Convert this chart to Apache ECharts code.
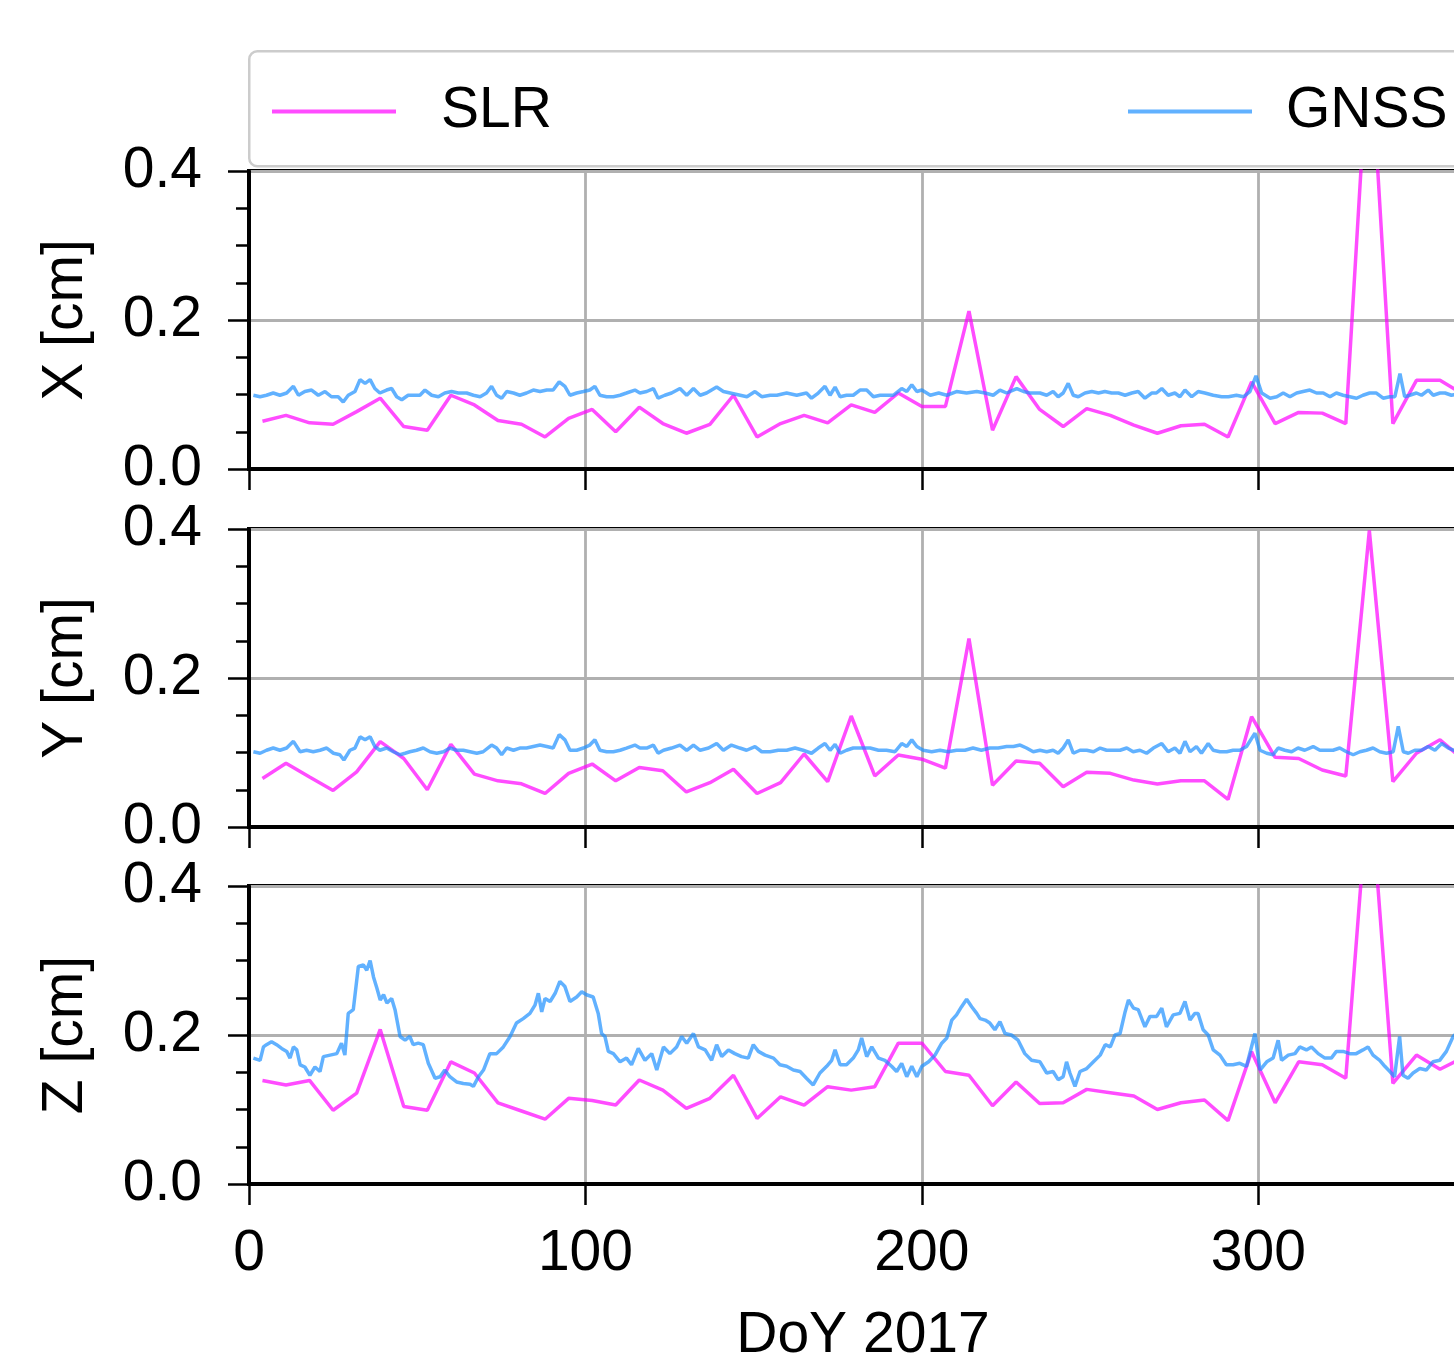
<!DOCTYPE html>
<html>
<head>
<meta charset="utf-8">
<script src="https://cdn.jsdelivr.net/npm/echarts@6/dist/echarts.min.js"></script>
<style>
html,body{margin:0;padding:0;background:#fff;overflow:hidden;width:1454px;height:1367px;}
#chart{width:1500px;height:1367px;}
</style>
</head>
<body>
<div id="chart"></div>
<script>
// ---------------- DATA ----------------
const panelNames = ['X [cm]', 'Y [cm]', 'Z [cm]'];
const xTitle = 'DoY 2017';
const seriesNames = ['SLR', 'GNSS'];
const yTicks = [0.0, 0.2, 0.4];
const xTicks = [0, 100, 200, 300];

// SLR weekly solutions (day of year)
const slrDays = [4,11,18,25,32,39,46,53,60,67,74,81,88,95,102,109,116,123,130,137,144,151,158,165,172,179,186,193,200,207,214,221,228,235,242,249,256,263,270,277,284,291,298,305,312,319,326,333,340,347,354,361];
const slrX = [0.064,0.072,0.062,0.060,0.077,0.095,0.057,0.052,0.099,0.086,0.065,0.060,0.043,0.068,0.080,0.050,0.083,0.061,0.048,0.060,0.099,0.043,0.061,0.072,0.062,0.086,0.076,0.102,0.084,0.084,0.212,0.052,0.124,0.080,0.057,0.081,0.072,0.059,0.048,0.058,0.060,0.043,0.117,0.061,0.076,0.075,0.061,0.59,0.061,0.119,0.119,0.100];
const slrY = [0.065,0.0855,0.067,0.049,0.074,0.1145,0.092,0.050,0.111,0.071,0.062,0.058,0.045,0.072,0.0845,0.062,0.080,0.0755,0.047,0.0595,0.0775,0.045,0.0595,0.098,0.061,0.149,0.0685,0.0966,0.091,0.079,0.253,0.056,0.0886,0.0855,0.054,0.0735,0.072,0.063,0.0577,0.062,0.062,0.037,0.148,0.0935,0.092,0.0765,0.0685,0.398,0.061,0.099,0.117,0.090];
const slrZ = [0.139,0.133,0.139,0.099,0.122,0.2075,0.104,0.099,0.164,0.149,0.109,0.098,0.087,0.115,0.112,0.106,0.1396,0.126,0.1015,0.115,0.146,0.088,0.117,0.106,0.1306,0.126,0.1306,0.189,0.189,0.151,0.146,0.105,0.137,0.108,0.109,0.127,0.1226,0.118,0.100,0.109,0.1128,0.085,0.1776,0.109,0.164,0.160,0.142,0.55,0.135,0.173,0.154,0.170];

// GNSS daily solutions [day, value]
const gnssX = [[1.3,.099],[3.3,.097],[5.2,.099],[7.2,.102],[9.2,.099],[11.2,.102],[13.2,.111],[14.7,.099],[16.6,.104],[18.6,.106],[20.6,.099],[22.6,.104],[24.5,.097],[26.5,.097],[28.0,.090],[29.5,.099],[31.5,.104],[33.0,.120],[34.5,.115],[36.0,.120],[37.4,.108],[38.9,.102],[40.9,.106],[42.4,.108],[43.9,.097],[45.4,.093],[47.3,.099],[49.3,.099],[50.8,.099],[52.3,.106],[54.3,.099],[56.3,.097],[58.2,.102],[60.2,.104],[62.2,.102],[64.7,.102],[66.7,.099],[68.7,.097],[70.6,.102],[72.1,.111],[73.6,.099],[75.1,.095],[76.6,.104],[78.6,.102],[80.5,.099],[82.5,.102],[84.5,.106],[86.5,.104],[88.5,.106],[90.4,.106],[92.2,.117],[93.9,.111],[95.4,.099],[97.4,.102],[99.4,.104],[101.3,.106],[102.8,.111],[104.3,.099],[106.3,.097],[108.3,.097],[110.3,.099],[112.2,.102],[114.7,.106],[116.2,.102],[118.2,.104],[120.2,.108],[121.6,.095],[123.6,.099],[125.6,.102],[128.1,.108],[130.1,.099],[132.1,.108],[134.1,.099],[136.0,.102],[139.0,.110],[141.0,.104],[143.0,.102],[146.0,.099],[148.0,.097],[150.4,.104],[152.4,.097],[154.9,.099],[156.9,.099],[159.8,.102],[162.8,.099],[165.7,.102],[167.2,.095],[169.2,.102],[171.2,.111],[172.7,.099],[174.2,.110],[175.7,.097],[177.6,.099],[179.6,.099],[181.6,.106],[183.6,.106],[185.6,.097],[187.6,.099],[189.5,.099],[191.5,.099],[194.0,.108],[195.5,.104],[197.0,.113],[198.5,.104],[200.0,.106],[202.5,.099],[205.0,.102],[207.4,.099],[210.3,.104],[213.3,.102],[216.3,.104],[218.8,.102],[221.2,.099],[223.2,.106],[225.2,.102],[228.2,.108],[230.2,.104],[232.1,.102],[235.1,.102],[237.1,.099],[239.0,.104],[240.5,.097],[242.0,.102],[243.5,.115],[245.0,.099],[246.5,.097],[248.5,.102],[250.5,.104],[252.5,.102],[254.4,.104],[256.4,.102],[258.4,.102],[260.4,.099],[262.4,.102],[264.3,.104],[266.3,.095],[268.3,.102],[269.7,.102],[271.3,.108],[273.2,.099],[275.2,.102],[276.7,.097],[278.2,.106],[280.2,.097],[282.1,.104],[284.1,.102],[286.6,.099],[289.1,.097],[291.1,.097],[293.5,.099],[295.6,.097],[297.5,.104],[299.3,.125],[301.0,.102],[303.5,.095],[305.5,.097],[307.4,.102],[309.4,.097],[311.4,.102],[313.3,.104],[315.3,.106],[317.3,.102],[319.3,.102],[321.3,.097],[323.2,.102],[325.2,.099],[327.2,.097],[329.2,.095],[331.1,.099],[333.1,.102],[335.1,.102],[337.1,.095],[339.1,.097],[340.6,.097],[342.1,.128],[343.5,.097],[345.0,.099],[347.0,.102],[348.5,.099],[350.5,.106],[352.0,.099],[354.0,.102],[355.5,.102],[357.4,.099],[359.5,.101]];

const gnssY = [[1.3,.101],[3.3,.099],[5.2,.103],[7.2,.106],[9.2,.103],[11.2,.106],[13.2,.115],[15.2,.101],[17.1,.103],[19.1,.101],[21.1,.103],[23.1,.106],[25.1,.099],[27.0,.097],[28.2,.090],[30.0,.103],[31.5,.106],[33.0,.121],[34.5,.117],[36.0,.121],[37.4,.108],[38.9,.103],[40.9,.106],[42.9,.101],[44.9,.097],[46.4,.099],[47.8,.101],[49.8,.103],[51.8,.106],[53.8,.101],[55.8,.099],[57.8,.101],[59.7,.106],[61.7,.103],[63.7,.103],[65.7,.101],[67.7,.099],[69.6,.101],[72.1,.110],[73.6,.106],[75.1,.097],[76.6,.106],[78.6,.103],[80.5,.106],[82.5,.106],[84.5,.108],[86.5,.110],[88.5,.108],[90.4,.106],[92.2,.124],[93.9,.117],[95.4,.103],[97.4,.103],[99.4,.106],[101.3,.110],[102.8,.117],[104.3,.103],[106.3,.101],[108.3,.101],[110.3,.103],[112.2,.106],[114.7,.110],[116.2,.106],[118.2,.106],[120.2,.110],[121.6,.099],[123.2,.103],[125.6,.106],[128.1,.110],[130.1,.103],[132.1,.110],[134.1,.103],[136.6,.106],[139.0,.112],[141.0,.103],[143.4,.110],[145.9,.106],[147.9,.103],[150.4,.108],[152.4,.101],[154.9,.101],[157.3,.103],[159.8,.103],[162.3,.106],[164.7,.103],[167.2,.099],[169.2,.106],[171.2,.112],[172.7,.103],[174.2,.111],[175.7,.099],[177.6,.103],[179.6,.106],[182.1,.106],[184.6,.106],[187.1,.103],[189.5,.103],[192.0,.101],[194.0,.112],[195.5,.108],[197.0,.117],[198.5,.108],[200.4,.103],[202.9,.101],[205.4,.103],[207.8,.101],[210.3,.103],[212.8,.103],[215.2,.106],[217.7,.103],[220.2,.106],[222.7,.106],[225.2,.108],[227.2,.108],[229.2,.110],[231.1,.106],[233.1,.101],[235.1,.103],[237.1,.101],[239.0,.103],[240.5,.099],[242.0,.106],[243.5,.117],[245.0,.099],[247.0,.103],[249.0,.103],[251.0,.101],[253.0,.106],[254.9,.103],[256.9,.103],[258.9,.103],[260.9,.106],[262.8,.101],[264.8,.103],[266.8,.099],[268.8,.106],[271.3,.112],[273.2,.101],[275.2,.106],[276.7,.099],[278.2,.115],[279.7,.101],[281.6,.108],[283.1,.099],[285.1,.112],[286.6,.103],[288.6,.101],[290.6,.101],[292.5,.103],[294.5,.103],[296.5,.108],[299.0,.126],[300.5,.103],[302.5,.099],[304.4,.097],[305.9,.106],[307.9,.103],[309.9,.101],[311.8,.106],[313.8,.103],[316.3,.108],[318.3,.103],[320.3,.103],[322.2,.103],[324.2,.106],[326.2,.101],[328.2,.097],[330.2,.101],[332.1,.103],[334.1,.106],[336.1,.101],[338.1,.099],[340.1,.101],[341.6,.135],[343.1,.101],[344.6,.099],[346.5,.103],[348.5,.103],[350.5,.108],[352.5,.103],[354.5,.112],[356.5,.106],[358.2,.103],[359.5,.102]];

const gnssZ = [[1.3,.169],[3.3,.166],[4.3,.184],[5.2,.187],[6.7,.191],[8.2,.187],[9.7,.182],[11.2,.178],[12.2,.169],[13.2,.184],[14.2,.180],[15.2,.160],[16.6,.157],[18.1,.146],[19.6,.157],[21.1,.151],[22.1,.171],[24.1,.173],[26.1,.175],[27.5,.189],[28.5,.173],[29.5,.229],[31.0,.234],[32.5,.292],[34.0,.294],[35.0,.287],[36.0,.300],[37.0,.278],[38.0,.263],[39.0,.247],[40.0,.254],[41.0,.243],[42.4,.249],[43.4,.234],[44.9,.198],[46.4,.193],[47.8,.198],[48.8,.187],[50.3,.189],[51.8,.187],[53.3,.162],[55.3,.142],[56.8,.144],[58.2,.153],[59.7,.144],[61.7,.137],[63.7,.135],[65.7,.134],[66.7,.131],[68.2,.144],[69.7,.153],[71.6,.175],[73.6,.175],[75.6,.184],[77.6,.198],[79.5,.216],[81.5,.222],[83.5,.229],[85.0,.240],[86.0,.256],[87.0,.231],[88.0,.249],[89.5,.245],[91.0,.256],[92.4,.272],[93.9,.265],[95.4,.245],[97.4,.251],[98.9,.258],[100.3,.254],[102.3,.251],[103.8,.229],[104.8,.202],[105.8,.198],[106.8,.178],[108.3,.175],[110.3,.164],[112.2,.169],[113.7,.160],[115.7,.182],[117.7,.166],[119.7,.175],[121.2,.153],[123.2,.184],[125.1,.175],[127.1,.184],[128.6,.198],[130.1,.189],[132.1,.202],[133.6,.184],[135.6,.180],[137.5,.166],[139.0,.187],[140.5,.171],[142.5,.180],[144.4,.175],[146.4,.171],[148.4,.169],[149.9,.187],[151.4,.178],[153.4,.173],[155.9,.169],[157.8,.160],[159.8,.158],[161.8,.153],[163.8,.151],[165.7,.142],[167.7,.133],[169.7,.149],[171.7,.158],[173.2,.166],[174.2,.180],[175.7,.160],[177.6,.160],[179.6,.169],[181.1,.180],[182.1,.196],[183.6,.171],[185.1,.184],[187.1,.169],[189.0,.166],[191.0,.158],[192.5,.151],[194.0,.162],[195.5,.144],[197.0,.158],[198.5,.144],[200.0,.158],[202.0,.164],[203.9,.173],[205.9,.189],[207.4,.196],[208.9,.220],[210.3,.227],[211.8,.238],[213.3,.248],[214.8,.238],[216.3,.229],[217.3,.222],[218.8,.220],[220.2,.216],[221.7,.207],[223.2,.218],[224.7,.202],[226.6,.200],[228.6,.193],[230.6,.175],[232.6,.166],[235.1,.164],[237.1,.149],[239.0,.151],[240.5,.140],[242.0,.144],[243.0,.164],[244.0,.149],[245.5,.131],[247.0,.151],[249.0,.155],[251.0,.164],[253.0,.173],[254.5,.187],[256.0,.184],[257.4,.200],[258.9,.202],[260.4,.231],[261.4,.247],[262.9,.236],[264.3,.234],[266.3,.211],[267.8,.225],[269.8,.225],[271.3,.236],[272.7,.211],[274.7,.227],[276.7,.229],[278.2,.245],[279.7,.220],[281.1,.229],[282.1,.229],[283.6,.207],[285.1,.200],[286.6,.180],[288.6,.173],[290.5,.160],[292.5,.160],[294.5,.162],[296.5,.158],[299.0,.202],[300.5,.153],[302.5,.164],[304.4,.169],[305.9,.193],[306.9,.166],[308.9,.173],[310.9,.175],[312.3,.184],[314.3,.180],[315.8,.184],[317.8,.175],[319.8,.169],[321.7,.169],[323.2,.178],[325.2,.178],[327.2,.175],[329.1,.175],[331.1,.180],[332.6,.184],[334.1,.173],[336.1,.166],[337.6,.158],[339.1,.151],[340.5,.144],[342.0,.198],[343.0,.146],[344.5,.142],[346.0,.149],[348.0,.155],[349.9,.153],[351.9,.164],[353.9,.166],[355.9,.178],[357.9,.198],[359.5,.205]];

// ---------------- CHART ----------------
const FONT = '"Liberation Sans", Arial, sans-serif';
const FS = 57;
const SLR_COLOR = 'rgba(255,0,255,0.7)';
const GNSS_COLOR = 'rgba(30,144,255,0.7)';
const panelTops = [171, 529, 886];
const panelH = 298;
const gridLeft = 249;
const xMax = 365;
const gridW = 1228;

const slrAll = [slrX, slrY, slrZ];
const gnssAll = [gnssX, gnssY, gnssZ];

const grids = [], xAxes = [], yAxes = [], series = [];
for (let i = 0; i < 3; i++) {
  grids.push({left: gridLeft, top: panelTops[i], width: gridW, height: panelH,
    show: true, borderColor: '#000', borderWidth: 4, backgroundColor: 'transparent', containLabel: false});
  xAxes.push({
    gridIndex: i, type: 'value', min: 0, max: xMax, interval: 100,
    name: i === 2 ? xTitle : '', nameLocation: 'middle', nameGap: 124,
    nameTextStyle: {fontSize: FS, fontFamily: FONT, color: '#000'},
    axisLine: {show: true, lineStyle: {color: '#000', width: 4}},
    axisTick: {show: true, length: 21, lineStyle: {color: '#000', width: 2.5}},
    axisLabel: {show: i === 2, fontSize: FS, fontFamily: FONT, color: '#000', margin: 42, showMaxLabel: false,
      formatter: v => xTicks.includes(v) ? String(v) : ''},
    splitLine: {show: true, lineStyle: {color: '#b0b0b0', width: 2.8}}
  });
  yAxes.push({
    gridIndex: i, type: 'value', min: 0, max: 0.4, interval: 0.2,
    name: panelNames[i], nameLocation: 'middle', nameGap: 154, nameRotate: 90,
    nameTextStyle: {fontSize: FS, fontFamily: FONT, color: '#000'},
    axisLine: {show: true, lineStyle: {color: '#000', width: 4}},
    axisTick: {show: true, length: 21, lineStyle: {color: '#000', width: 2.5}},
    minorTick: {show: true, splitNumber: 4, length: 13, lineStyle: {color: '#000', width: 2.5}},
    axisLabel: {fontSize: FS, fontFamily: FONT, color: '#000', margin: 47,
      formatter: v => yTicks.find(t => Math.abs(t - v) < 1e-9) !== undefined ? v.toFixed(1) : ''},
    splitLine: {show: true, lineStyle: {color: '#b0b0b0', width: 2.8}}
  });
  series.push({
    name: seriesNames[0], type: 'line', xAxisIndex: i, yAxisIndex: i,
    data: slrDays.map((d, k) => [d, slrAll[i][k]]),
    showSymbol: false, symbol: 'none', clip: true,
    lineStyle: {color: SLR_COLOR, width: 3.5}, itemStyle: {color: SLR_COLOR}, z: 3
  });
  series.push({
    name: seriesNames[1], type: 'line', xAxisIndex: i, yAxisIndex: i,
    data: gnssAll[i],
    showSymbol: false, symbol: 'none', clip: true,
    lineStyle: {color: GNSS_COLOR, width: 3.5}, itemStyle: {color: GNSS_COLOR}, z: 4
  });
}

const legendCommon = {
  orient: 'horizontal', icon: 'rect', itemWidth: 124, itemHeight: 4, padding: 0,
  selectedMode: false, z: 10
};
const legendText = pad => ({fontSize: FS, fontFamily: FONT, color: '#000', padding: [0, 0, 0, pad]});

const chart = echarts.init(document.getElementById('chart'), null, {renderer: 'canvas'});
chart.setOption({
  animation: false,
  backgroundColor: '#fff',
  graphic: [{
    type: 'rect', left: 248, top: 50, z: 1,
    shape: {width: 1300, height: 115, r: 8},
    style: {fill: '#fff', stroke: '#cccccc', lineWidth: 2.5}
  }],
  legend: [
    Object.assign({}, legendCommon, {data: [seriesNames[0]], left: 272, top: 83, textStyle: legendText(40)}),
    Object.assign({}, legendCommon, {data: [seriesNames[1]], left: 1128, top: 83, textStyle: legendText(29)})
  ],
  grid: grids,
  xAxis: xAxes,
  yAxis: yAxes,
  series: series
});
</script>
</body>
</html>
